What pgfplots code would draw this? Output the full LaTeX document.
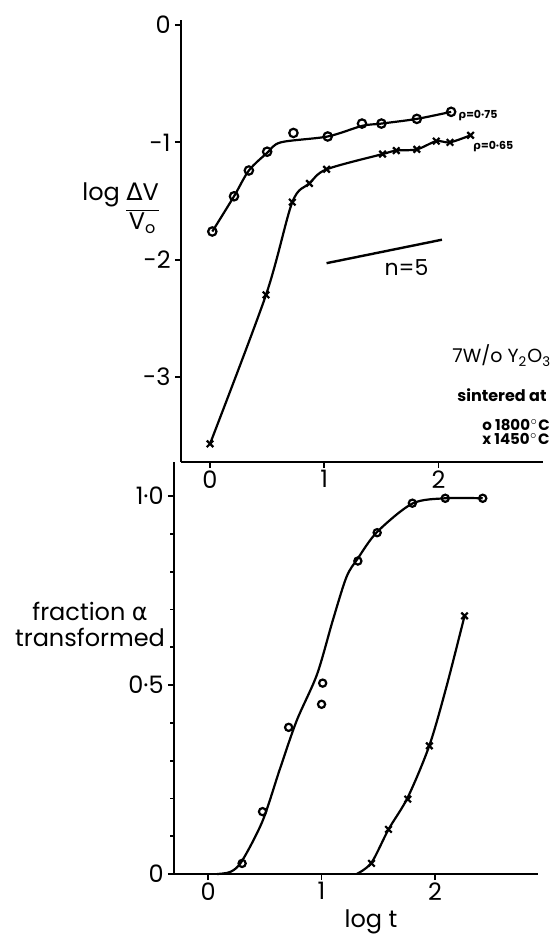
\documentclass[border=0pt]{standalone}
\usepackage{pgfplots}
\pgfplotsset{compat=1.18}
\usepackage{fontspec}
\setmainfont{Poppins}
\newfontfamily\greekfont{DejaVu Sans}

% measured points, swelling (top) and transformed fraction (bottom)
\pgfplotstableread{
x y
0.02 -1.76
0.21 -1.46
0.34 -1.24
0.50 -1.08
0.73 -0.92
1.03 -0.95
1.33 -0.84
1.50 -0.84
1.81 -0.80
2.11 -0.74
}\swellA
\pgfplotstableread{
x y
0.02 -1.76
0.21 -1.46
0.34 -1.24
0.50 -1.09
0.62 -1.00
1.03 -0.95
1.33 -0.86
1.50 -0.84
1.81 -0.80
2.11 -0.74
}\swellAfit
\pgfplotstableread{
x y
0.00 -3.57
0.49 -2.30
0.72 -1.51
0.87 -1.35
1.02 -1.23
1.51 -1.10
1.63 -1.07
1.81 -1.06
1.98 -0.99
2.10 -1.00
2.28 -0.94
}\swellB
\pgfplotstableread{
x y
0.30 0.028
0.48 0.165
0.71 0.388
1.00 0.449
1.01 0.505
1.32 0.828
1.49 0.903
1.80 0.981
2.09 0.994
2.42 0.994
}\fracA
\pgfplotstableread{
x y
0.08 0.000
0.20 0.006
0.30 0.035
0.48 0.140
0.63 0.275
0.78 0.405
0.96 0.528
1.10 0.672
1.22 0.786
1.32 0.835
1.49 0.905
1.80 0.980
2.09 0.994
2.42 0.994
}\fracAfit
\pgfplotstableread{
x y
1.44 0.028
1.59 0.118
1.76 0.198
1.95 0.339
2.26 0.683
}\fracB
\pgfplotstableread{
x y
1.31 0.000
1.44 0.030
1.59 0.118
1.76 0.203
1.95 0.340
2.10 0.495
2.26 0.683
}\fracBfit

\pgfplotsset{
  panel/.style={
    scale only axis,
    axis lines*=left,
    axis line style={line width=1.3pt,-},
    tick align=outside,
    major tick length=3pt,
    minor tick length=2pt,
    tick style={line width=0.9pt,black},
    ticklabel style={font=\fontsize{12}{12}\selectfont},
    xticklabel style={inner sep=1pt},
    yticklabel style={inner sep=2pt},
    xtick={0,1,2}, xticklabels={0,1,2},
    clip=false,
  },
  fit/.style={black, line width=1.1pt, smooth, no marks},
  ringmark/.style={black, only marks, mark=o, mark size=2.1pt, mark options={line width=1.1pt}},
  crossmark/.style={black, mark=x, mark size=2.3pt, mark options={line width=1.1pt}},
}

\begin{document}
\begin{tikzpicture}
\path[use as bounding box] (0,0) rectangle (277.5pt,469.5pt);

% upper panel: log of relative volume change
\begin{axis}[panel,
  at={(90.5pt,238.5pt)}, anchor=south west,
  width=181pt, height=221pt,
  xmin=-0.254, xmax=2.914, ymin=-3.725, ymax=0.043,
  ytick={-3,-2,-1,0}, yticklabels={-3,-2,-1,0},
]
\addplot[fit] table {\swellAfit};
\addplot[ringmark] table {\swellA};
\addplot[crossmark, line width=1.1pt, smooth] table {\swellB};
% slope guide for n = 5
\addplot[black, line width=1.2pt] coordinates {(1.02,-2.03) (2.03,-1.83)};
\node[font=\fontsize{11}{11}\selectfont] at (axis cs:1.72,-2.07) {n=5};
\node[anchor=west, inner sep=0pt, font=\fontsize{5.5}{5.5}\selectfont\bfseries] at (axis cs:2.17,-0.77) {{\greekfont ρ}=0·75};
\node[anchor=west, inner sep=0pt, font=\fontsize{5.5}{5.5}\selectfont\bfseries] at (axis cs:2.30,-1.04) {{\greekfont ρ}=0·65};
\end{axis}

% lower panel: fraction transformed
\begin{axis}[panel,
  at={(87pt,32.5pt)}, anchor=south west,
  width=182pt, height=206pt,
  xmin=-0.30, xmax=2.907, ymin=0, ymax=1.09,
  ytick={0,0.5,1}, yticklabels={0,0·5,1·0},
  minor ytick={0.1,0.2,0.3,0.4,0.6,0.7,0.8,0.9},
]
\addplot[fit] table {\fracAfit};
\addplot[ringmark, mark size=1.8pt] table {\fracA};
\addplot[fit] table {\fracBfit};
\addplot[crossmark, only marks] table {\fracB};
\end{axis}

% axis titles
\node[font=\fontsize{12}{12}\selectfont, anchor=base west, inner sep=0pt] at (41pt,369pt)
  {log \begin{tabular}[t]{@{}c@{}}{\greekfont Δ}V\\[1pt]\hline\noalign{\vskip1pt} V\textsubscript{o}\end{tabular}};
\node[font=\fontsize{12}{13}\selectfont, align=center] at (45pt,157.5pt) {fraction {\greekfont α}\\transformed};
\node[font=\fontsize{12}{12}\selectfont] at (185.5pt,8.5pt) {log t};

% specimen key
\node[anchor=base west, inner sep=0pt, font=\fontsize{9.5}{9.5}\selectfont] at (226pt,288pt) {7W/o Y\textsubscript{2}O\textsubscript{3}};
\node[anchor=base west, inner sep=0pt, font=\fontsize{8}{8}\selectfont\bfseries] at (228.5pt,268.5pt) {sintered at};
\node[anchor=base west, inner sep=0pt, font=\fontsize{7.5}{7.5}\selectfont\bfseries] at (241pt,254pt) {o 1800$^\circ$C};
\node[anchor=base west, inner sep=0pt, font=\fontsize{7.5}{7.5}\selectfont\bfseries] at (241pt,247pt) {x 1450$^\circ$C};
\end{tikzpicture}
\end{document}
